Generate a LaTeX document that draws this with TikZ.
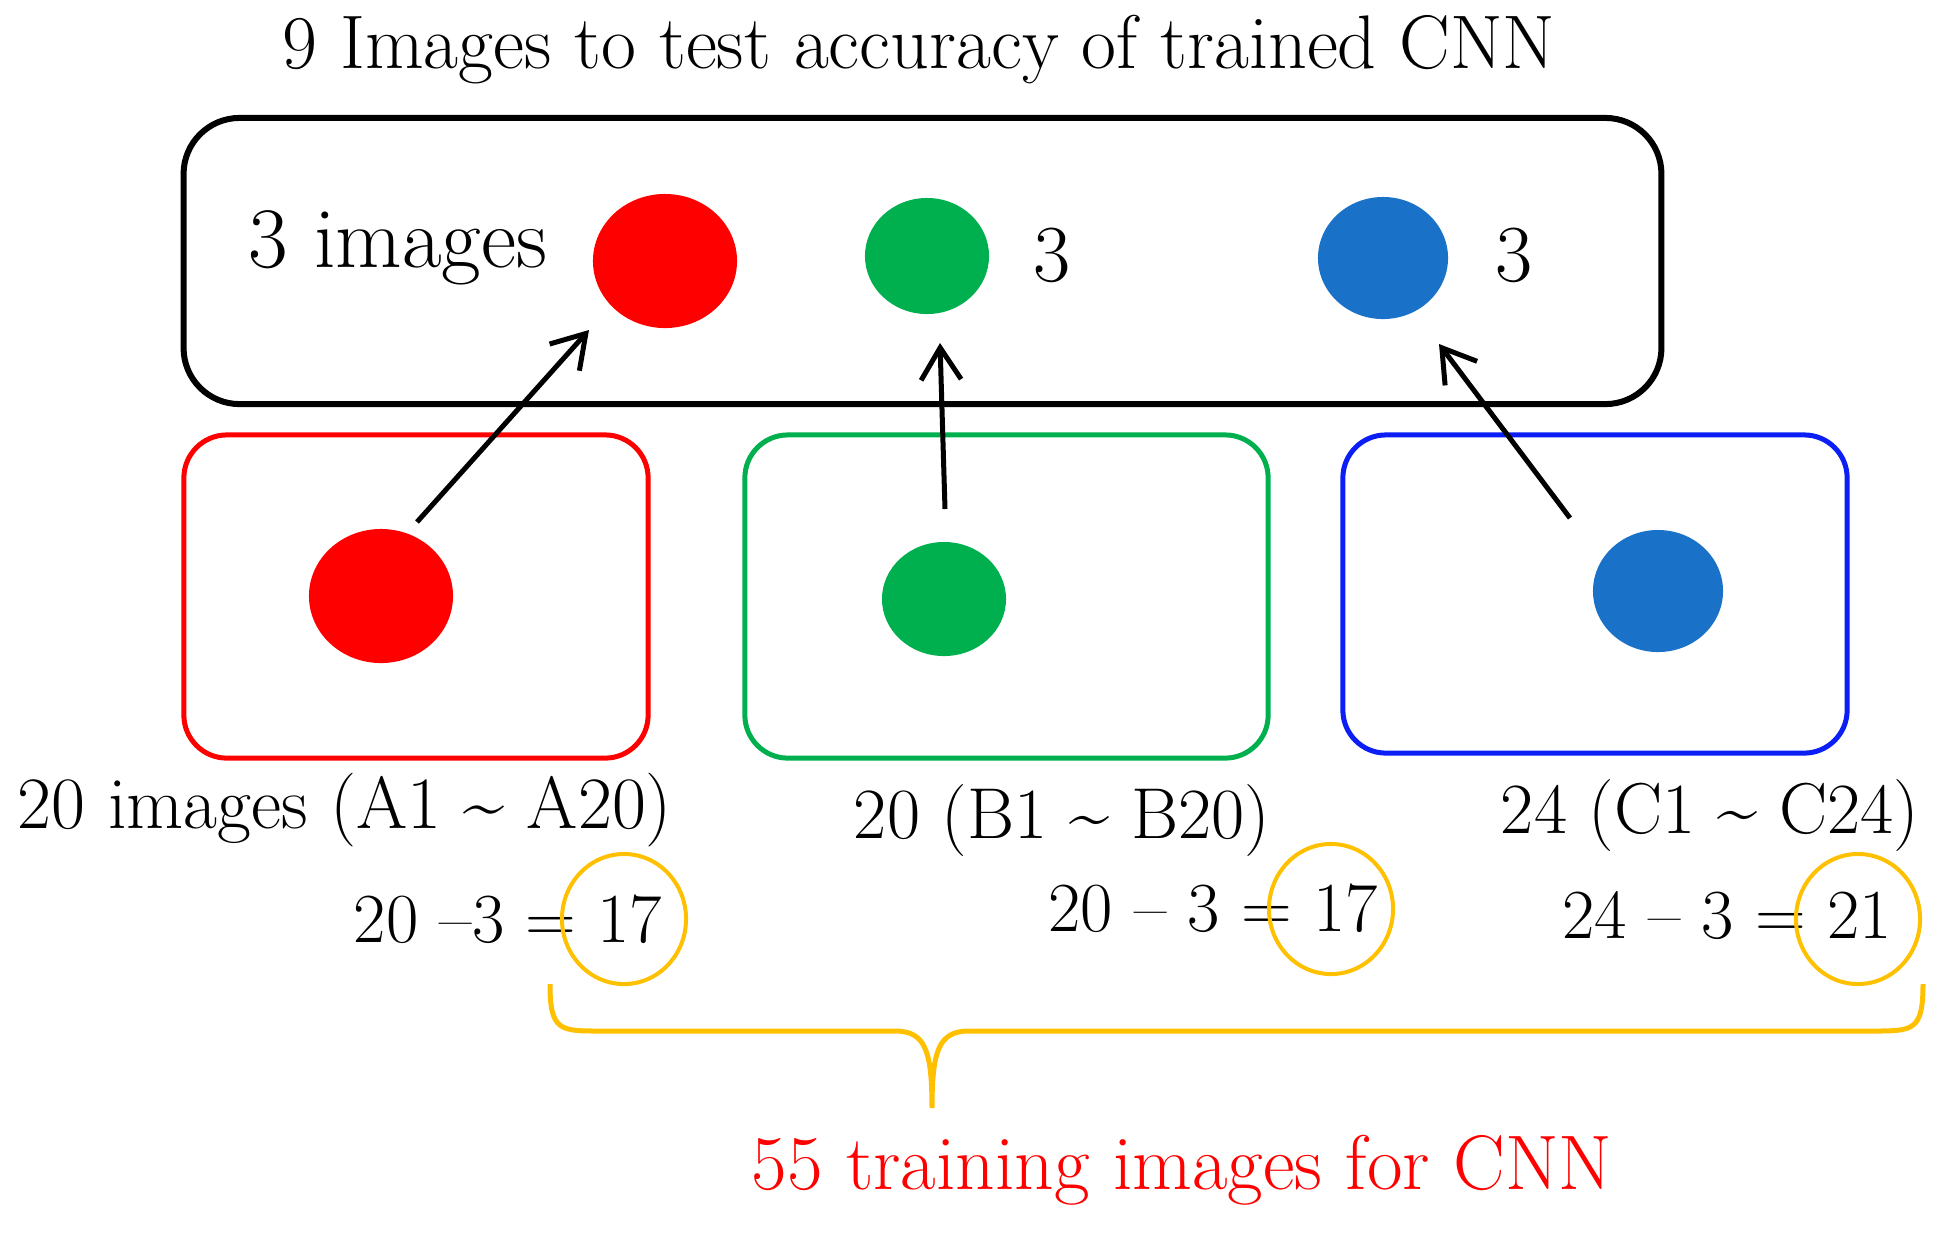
\documentclass[tikz,border=0pt]{standalone}
\usepackage{fontspec}
\usetikzlibrary{shapes.geometric,arrows.meta}
\definecolor{cred}{HTML}{FF0000}
\definecolor{cgreen}{HTML}{00B04F}
\definecolor{cblue}{HTML}{1A72C8}
\definecolor{cboxblue}{HTML}{0A1EF5}
\definecolor{corange}{HTML}{FFC000}
\begin{document}
\begin{tikzpicture}[x=0.01cm,y=-0.01cm,
  dot/.style={ellipse, inner sep=0pt, draw=none},
  grp/.style={rectangle, rounded corners=0.43cm, line width=0.05cm, inner sep=0pt, minimum height=3.23cm},
  lbl/.style={font=\fontsize{20}{24}\selectfont, inner sep=0pt},
  big/.style={font=\fontsize{23}{27}\selectfont, inner sep=0pt},
  ring/.style={ellipse, draw=corange, line width=0.04cm, inner sep=0pt, minimum width=1.24cm, minimum height=1.3cm},
  arr/.style={line width=0.05cm, -{Straight Barb[length=0.32cm,width=0.4cm,line width=0.05cm]}}
]
\useasboundingbox (0,0) rectangle (1948,1232);
% title
\node[font=\fontsize{21.6}{26}\selectfont, inner sep=0pt] (title) at (919,50) {9 Images to test accuracy of trained CNN};
% test box
\node[draw, rectangle, rounded corners=0.56cm, line width=0.06cm, minimum width=14.77cm, minimum height=2.86cm] (test) at (922.5,261) {};
\node[font=\fontsize{24.5}{29}\selectfont, inner sep=0pt] (three) at (398,248) {3 images};
\node[dot, fill=cred, minimum width=1.44cm, minimum height=1.34cm] (redT) at (665,261) {};
\node[dot, fill=cgreen, minimum width=1.24cm, minimum height=1.16cm] (greenT) at (927,256) {};
\node[big] (gthree) at (1052,255) {3};
\node[dot, fill=cblue, minimum width=1.3cm, minimum height=1.22cm] (blueT) at (1383,258) {};
\node[big] (bthree) at (1514,255) {3};
% class boxes
\node[grp, draw=cred, minimum width=4.64cm] (redB) at (416,596.5) {};
\node[grp, draw=cgreen, minimum width=5.23cm] (greenB) at (1006.5,596.5) {};
\node[grp, draw=cboxblue, minimum width=5.04cm, minimum height=3.18cm] (blueB) at (1595,594) {};
\node[dot, fill=cred, minimum width=1.44cm, minimum height=1.34cm] (redD) at (381,596) {};
\node[dot, fill=cgreen, minimum width=1.24cm, minimum height=1.14cm] (greenD) at (944,599) {};
\node[dot, fill=cblue, minimum width=1.3cm, minimum height=1.22cm] (blueD) at (1658,591) {};
% arrows
\coordinate (ra) at (417,522);
\coordinate (rb) at (589,330);
\coordinate (ga) at (945,509);
\coordinate (gb) at (940,343);
\coordinate (ba) at (1570,518);
\coordinate (bb) at (1439,344);
\draw[arr] (ra) -- (rb);
\draw[arr] (ga) -- (gb);
\draw[arr] (ba) -- (bb);
% labels
\node[font=\fontsize{21}{25}\selectfont, inner sep=0pt] (la) at (345,810) {20 images (A1 \textasciitilde{} A20)};
\node[font=\fontsize{20.5}{25}\selectfont, inner sep=0pt] (lb) at (1062,820) {20 (B1 \textasciitilde{} B20)};
\node[font=\fontsize{20.5}{25}\selectfont, inner sep=0pt] (lc) at (1710,815) {24 (C1 \textasciitilde{} C24)};
\node[lbl] (ea) at (508,919) {20 –3 = 17};
\node[lbl] (eb) at (1213,908) {20 – 3 = 17};
\node[lbl] (ec) at (1727,916) {24 – 3 = 21};
\node[ring] (oa) at (624,919) {};
\node[ring] (ob) at (1331,909) {};
\node[ring] (oc) at (1858,919) {};
% brace
\coordinate (bl) at (550,984);
\coordinate (bt) at (932,1108);
\coordinate (br) at (1923,984);
\draw[corange, line width=0.05cm]
  (bl) .. controls (550,1031) and (560,1031) .. (600,1031) -- (895,1031)
  .. controls (925,1031) and (932,1050) .. (bt)
  .. controls (932,1050) and (939,1031) .. (969,1031) -- (1873,1031)
  .. controls (1913,1031) and (1923,1031) .. (br);
\node[font=\fontsize{22}{26}\selectfont, inner sep=0pt, text=cred] (train) at (1182,1170) {55 training images for CNN};
\end{tikzpicture}
\end{document}
